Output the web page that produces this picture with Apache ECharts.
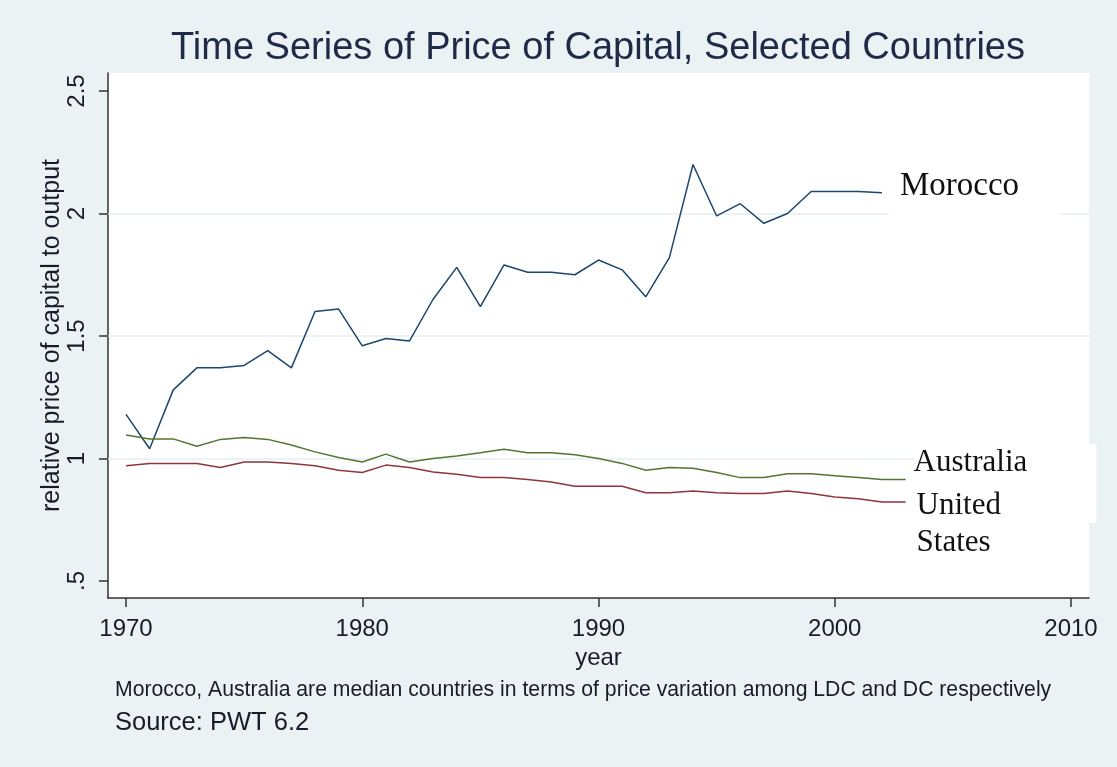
<!DOCTYPE html>
<html>
<head>
<meta charset="utf-8">
<script src="https://cdn.jsdelivr.net/npm/echarts@6/dist/echarts.min.js"></script>
<style>
  html, body { margin: 0; padding: 0; background: #eaf2f3; }
  #chart { width: 1117px; height: 767px; }
</style>
</head>
<body>
<div id="chart"></div>
<script>
// ---- data ----
const years = [1970,1971,1972,1973,1974,1975,1976,1977,1978,1979,1980,1981,1982,1983,1984,1985,1986,1987,1988,1989,1990,1991,1992,1993,1994,1995,1996,1997,1998,1999,2000,2001,2002,2003];
const morocco = [1.18,1.04,1.28,1.37,1.37,1.38,1.44,1.37,1.60,1.61,1.46,1.49,1.48,1.65,1.78,1.62,1.79,1.76,1.76,1.75,1.81,1.77,1.66,1.82,2.20,1.99,2.04,1.96,2.00,2.09,2.09,2.09,2.085];
const australia = [1.096,1.08,1.08,1.05,1.078,1.086,1.078,1.055,1.027,1.004,0.986,1.018,0.986,1.0,1.01,1.023,1.038,1.023,1.023,1.015,1.0,0.98,0.952,0.963,0.96,0.943,0.922,0.922,0.938,0.938,0.93,0.922,0.914,0.914];
const unitedStates = [0.97,0.98,0.98,0.98,0.963,0.986,0.986,0.98,0.97,0.952,0.943,0.973,0.963,0.945,0.936,0.922,0.922,0.914,0.904,0.887,0.887,0.887,0.86,0.86,0.867,0.86,0.857,0.857,0.867,0.857,0.843,0.836,0.822,0.822];
const seriesNames = ['Morocco', 'Australia', 'United States'];
const seriesLabels = ['Morocco', 'Australia', 'United\nStates'];
const xTicks = [1970, 1980, 1990, 2000, 2010];
const yTicks = [0.5, 1, 1.5, 2, 2.5];
const yTickLabels = ['.5', '1', '1.5', '2', '2.5'];
const gridLineValues = [1, 1.5, 2];
const titleText = 'Time Series of Price of Capital, Selected Countries';
const noteText = 'Morocco, Australia are median countries in terms of price variation among LDC and DC respectively';
const sourceText = 'Source: PWT 6.2';
const xName = 'year';
const yName = 'relative price of capital to output';

// plot region extends a little beyond the outer ticks
const xPad = 0.762, yPadLow = 0.0694, yPadHigh = 0.0735;

function pairs(vals) { return vals.map((v, i) => [years[i], v]); }

const colors = ['#1a476f', '#55752f', '#90353b'];
const sans = 'Liberation Sans, Arial, sans-serif';
const serif = 'Liberation Serif, Times New Roman, serif';

const labelStyles = [
  { fontSize: 33, distance: 7, padding: [4, 40, 13, 11], lineHeight: 34, offset: [0, -27.7], verticalAlign: 'top', backgroundColor: '#fff' },
  { fontSize: 31, distance: 8, padding: [2, 69, 43, 0], lineHeight: 34, offset: [0, -35.6], verticalAlign: 'top', backgroundColor: '#fff' },
  { fontSize: 31, distance: 11, padding: 0, lineHeight: 37, offset: [0, 22.4] }
];

const dataSets = [morocco, australia, unitedStates];

const series = dataSets.map((vals, i) => {
  const s = {
    name: seriesNames[i],
    type: 'line',
    xAxisIndex: 0,
    yAxisIndex: 0,
    data: pairs(vals),
    showSymbol: false,
    symbol: 'none',
    lineStyle: { color: colors[i], width: 1.5 },
    itemStyle: { color: colors[i] },
    z: 2,
    endLabel: Object.assign({
      show: true,
      formatter: () => seriesLabels[i],
      fontFamily: serif,
      color: '#111'
    }, labelStyles[i])
  };
  if (i === 0) {
    s.markLine = {
      silent: true,
      z: 1,
      symbol: 'none',
      label: { show: false },
      lineStyle: { color: '#e6eff1', width: 1.5, type: 'solid' },
      data: gridLineValues.map(v => ({ yAxis: v }))
    };
  }
  return s;
});

const chart = echarts.init(document.getElementById('chart'), null, { renderer: 'canvas' });
chart.setOption({
  animation: false,
  backgroundColor: '#eaf2f3',
  title: [
    { text: titleText, left: 593, top: 25, textAlign: 'center',
      textStyle: { fontFamily: sans, fontSize: 38, fontWeight: 'normal', color: '#1e2a48' } },
    { text: noteText, left: 115, top: 680, padding: 0,
      textStyle: { fontFamily: sans, fontSize: 21.2, fontWeight: 'normal', color: '#1a1a2a' } },
    { text: sourceText, left: 115, top: 710, padding: 0,
      textStyle: { fontFamily: sans, fontSize: 25.5, fontWeight: 'normal', color: '#1a1a2a' } }
  ],
  grid: [
    { left: 108, right: 28, top: 73, bottom: 169, show: true, backgroundColor: '#fff', borderWidth: 0 },
    { left: 126, right: 46, top: 91, bottom: 186, show: false }
  ],
  xAxis: [
    { type: 'value', gridIndex: 0, min: xTicks[0] - xPad, max: xTicks[xTicks.length - 1] + xPad,
      axisLine: { show: true, onZero: false, lineStyle: { color: '#333', width: 1.5 } },
      axisTick: { show: false }, axisLabel: { show: false }, splitLine: { show: false },
      name: xName, nameLocation: 'middle', nameGap: 48,
      nameTextStyle: { fontFamily: sans, fontSize: 24, color: '#1a1a2a' } },
    { type: 'value', gridIndex: 1, min: xTicks[0], max: xTicks[xTicks.length - 1], interval: 10,
      position: 'bottom', offset: 17,
      axisLine: { show: false }, splitLine: { show: false },
      axisTick: { show: true, length: 9, lineStyle: { color: '#333', width: 1.5 } },
      axisLabel: { fontFamily: sans, fontSize: 24, color: '#1a1a2a', margin: 19, formatter: v => String(v) } }
  ],
  yAxis: [
    { type: 'value', gridIndex: 0, min: yTicks[0] - yPadLow, max: yTicks[yTicks.length - 1] + yPadHigh,
      axisLine: { show: true, onZero: false, lineStyle: { color: '#333', width: 1.5 } },
      axisTick: { show: false }, axisLabel: { show: false }, splitLine: { show: false },
      name: yName, nameLocation: 'middle', nameGap: 43, nameRotate: 90,
      nameTextStyle: { fontFamily: sans, fontSize: 25, color: '#1a1a2a' } },
    { type: 'value', gridIndex: 1, min: yTicks[0], max: yTicks[yTicks.length - 1], interval: 0.5,
      position: 'left', offset: 18,
      axisLine: { show: false }, splitLine: { show: false },
      axisTick: { show: true, length: 9, lineStyle: { color: '#333', width: 1.5 } },
      axisLabel: { fontFamily: sans, fontSize: 24, color: '#1a1a2a', rotate: 90, margin: 19,
        formatter: v => { const k = yTicks.findIndex(t => Math.abs(t - v) < 1e-9); return k >= 0 ? yTickLabels[k] : ''; } } }
  ],
  series: series
});
</script>
</body>
</html>
